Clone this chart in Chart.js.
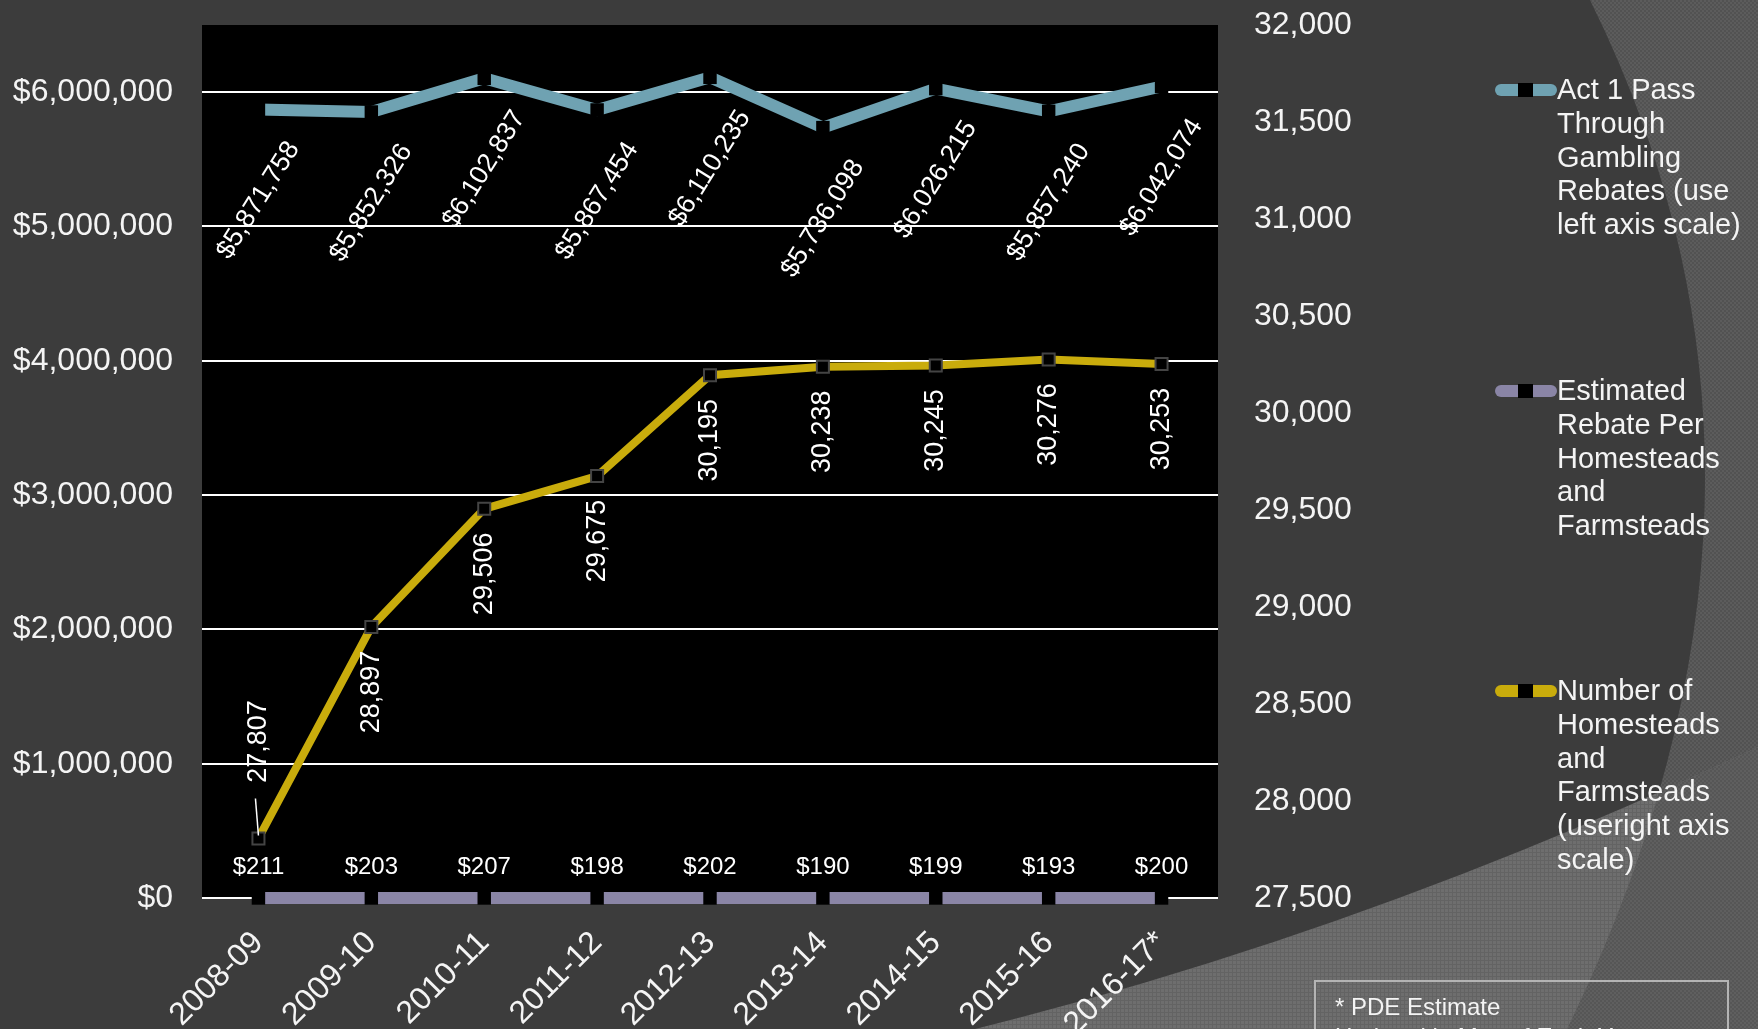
<!DOCTYPE html>
<html>
<head>
<meta charset="utf-8">
<script src="https://cdn.jsdelivr.net/npm/chart.js@4.4.1/dist/chart.umd.min.js"></script>
<style>
html, body { margin: 0; padding: 0; background: #3c3c3c; }
#wrap { position: relative; width: 1758px; height: 1029px; overflow: hidden; font-family: "Liberation Sans", Arial, sans-serif; color: #f4f4f4; }
#bg, #chart { position: absolute; left: 0; top: 0; }
.leg { position: absolute; left: 1495px; font-size: 29px; line-height: 33.8px; }
.leg .sym { position: absolute; left: 0; top: 11px; width: 62px; height: 12px; border-radius: 6px; }
.leg .sym i { position: absolute; left: 23px; top: -1px; width: 15px; height: 14px; background: #000; }
.leg span { display: block; margin-left: 62px; white-space: nowrap; }
#note { position: absolute; left: 1314px; top: 980px; width: 415px; height: 90px; border: 2px solid #b4b4b4; font-size: 24px; line-height: 30px; padding: 10px 0 0 19px; box-sizing: border-box; }
</style>
</head>
<body>
<div id="wrap">
  <svg id="bg" width="1758" height="1029">
    <defs>
      <pattern id="texA" width="4" height="4" patternUnits="userSpaceOnUse">
        <rect width="4" height="4" fill="#525252"/>
        <rect width="2" height="2" fill="#5c5c5c"/>
        <rect x="2" y="2" width="2" height="2" fill="#5c5c5c"/>
      </pattern>
      <pattern id="texB" width="4" height="4" patternUnits="userSpaceOnUse">
        <rect width="4" height="4" fill="#6e6e6e"/>
        <rect width="4" height="1" fill="#636363"/>
        <rect width="1" height="4" fill="#636363"/>
      </pattern>
      <pattern id="texC" width="4" height="4" patternUnits="userSpaceOnUse">
        <rect width="4" height="4" fill="#5f5f5f"/>
        <rect width="2" height="2" fill="#565656"/>
        <rect x="2" y="2" width="2" height="2" fill="#565656"/>
      </pattern>
      <clipPath id="lowClip">
        <path d="M975,1029 Q1365,932 1758,747 L1758,1029 Z"/>
      </clipPath>
    </defs>
    <path d="M1590,0 Q1831,486 1567,1029 L1758,1029 L1758,0 Z" fill="url(#texA)"/>
    <path d="M975,1029 Q1365,932 1758,747 L1758,1029 Z" fill="url(#texB)"/>
    <path d="M1590,0 Q1831,486 1567,1029 L1758,1029 L1758,0 Z" fill="url(#texC)" clip-path="url(#lowClip)"/>
  </svg>
  <canvas id="chart" width="1758" height="1029"></canvas>

  <div class="leg" style="top:73px">
    <div class="sym" style="background:#6fa2b2"><i></i></div>
    <span>Act 1 Pass</span><span>Through</span><span>Gambling</span><span>Rebates (use</span><span>left axis scale)</span>
  </div>
  <div class="leg" style="top:374px">
    <div class="sym" style="background:#8a85a6"><i></i></div>
    <span>Estimated</span><span>Rebate Per</span><span>Homesteads</span><span>and</span><span>Farmsteads</span>
  </div>
  <div class="leg" style="top:674px">
    <div class="sym" style="background:#c9ac0c"><i></i></div>
    <span>Number of</span><span>Homesteads</span><span>and</span><span>Farmsteads</span><span>(useright axis</span><span>scale)</span>
  </div>

  <div id="note">* PDE Estimate<br>Updated in May of Each Year</div>
</div>

<script>
const years = ['2008-09', '2009-10', '2010-11', '2011-12', '2012-13', '2013-14', '2014-15', '2015-16', '2016-17*']
const passThrough = [5871758, 5852326, 6102837, 5867454, 6110235, 5736098, 6026215, 5857240, 6042074]
const perHomestead = [211, 203, 207, 198, 202, 190, 199, 193, 200]
const homesteads = [27807, 28897, 29506, 29675, 30195, 30238, 30245, 30276, 30253]
const leftTicks = [0, 1000000, 2000000, 3000000, 4000000, 5000000, 6000000]

const BLUE = '#6fa2b2'
const PURPLE = '#8a85a6'
const GOLD = '#c9ac0c'
const FONT = '"Liberation Sans", Arial, sans-serif'

function money(v) {
    return '$' + v.toLocaleString('en-US')
}

const deg = Math.PI / 180

const valueLabels = {
    id: 'valueLabels',
    afterDatasetsDraw(chart) {
        const ctx = chart.ctx
        ctx.save()
        ctx.fillStyle = '#ffffff'
        ctx.textAlign = 'center'
        ctx.textBaseline = 'middle'

        // pass-through: slanted, under the line
        ctx.font = '26.5px ' + FONT
        chart.getDatasetMeta(0).data.forEach((p, i) => {
            ctx.save()
            ctx.translate(p.x, p.y + 91)
            ctx.rotate(-58 * deg)
            ctx.fillText(money(passThrough[i]), 0, 0)
            ctx.restore()
        })

        // per homestead: flat, just above the axis
        ctx.font = '24px ' + FONT
        chart.getDatasetMeta(1).data.forEach((p, i) => {
            ctx.fillText(money(perHomestead[i]), p.x, p.y - 31)
        })

        // homesteads: vertical
        ctx.font = '27px ' + FONT
        chart.getDatasetMeta(2).data.forEach((p, i) => {
            const dy = i === 0 ? -97 : 65
            ctx.save()
            ctx.translate(p.x, p.y + dy)
            ctx.rotate(-90 * deg)
            ctx.fillText(homesteads[i].toLocaleString('en-US'), 0, 0)
            ctx.restore()
            if (i === 0) {
                ctx.strokeStyle = '#ffffff'
                ctx.lineWidth = 1.5
                ctx.beginPath()
                ctx.moveTo(p.x, p.y - 3)
                ctx.lineTo(p.x - 3, p.y - 40)
                ctx.stroke()
            }
        })
        ctx.restore()
    }
}

const plotBg = {
    id: 'plotBg',
    beforeDraw(chart) {
        const a = chart.chartArea
        chart.ctx.save()
        chart.ctx.fillStyle = '#000000'
        chart.ctx.fillRect(a.left, a.top, a.right - a.left, a.bottom - a.top)
        chart.ctx.restore()
    }
}

function noPad(s) {
    s.paddingTop = 0
    s.paddingBottom = 0
}

new Chart(document.getElementById('chart'), {
    type: 'line',
    data: {
        labels: years,
        datasets: [
            {
                label: 'Act 1 Pass Through Gambling Rebates (use left axis scale)',
                data: passThrough,
                yAxisID: 'y',
                borderColor: BLUE,
                borderWidth: 12,
                borderCapStyle: 'butt',
                pointStyle: 'rect',
                pointRadius: 9.5,
                pointBackgroundColor: '#000',
                pointBorderWidth: 0,
                tension: 0,
                clip: false
            },
            {
                label: 'Estimated Rebate Per Homesteads and Farmsteads',
                data: perHomestead,
                yAxisID: 'y',
                borderColor: PURPLE,
                borderWidth: 12,
                borderCapStyle: 'round',
                pointStyle: 'rect',
                pointRadius: 9.5,
                pointBackgroundColor: '#000',
                pointBorderWidth: 0,
                tension: 0,
                clip: false
            },
            {
                label: 'Number of Homesteads and Farmsteads (useright axis scale)',
                data: homesteads,
                yAxisID: 'y1',
                borderColor: GOLD,
                borderWidth: 8,
                pointStyle: 'rect',
                pointRadius: 8.5,
                pointBackgroundColor: '#000',
                pointBorderColor: '#444',
                pointBorderWidth: 2,
                tension: 0,
                clip: false
            }
        ]
    },
    options: {
        responsive: false,
        animation: false,
        layout: { padding: { top: 25, right: 0, left: 0, bottom: 0 } },
        plugins: {
            legend: { display: false },
            tooltip: { enabled: false }
        },
        scales: {
            x: {
                offset: true,
                grid: { display: false },
                border: { display: false },
                ticks: {
                    color: '#f4f4f4',
                    font: { family: FONT, size: 32 },
                    minRotation: 45,
                    maxRotation: 45,
                    padding: 18
                },
                afterFit: s => { s.height = 131 }
            },
            y: {
                position: 'left',
                min: 0,
                max: 6500000,
                border: { display: false },
                grid: { color: '#ffffff', lineWidth: 2, drawTicks: false },
                ticks: {
                    padding: 29,
                    color: '#f4f4f4',
                    font: { family: FONT, size: 32 },
                    callback: v => money(v)
                },
                afterBuildTicks: s => { s.ticks = leftTicks.map(v => ({ value: v })) },
                afterFit: s => { s.width = 202; noPad(s) }
            },
            y1: {
                position: 'right',
                min: 27500,
                max: 32000,
                border: { display: false },
                grid: { display: false, drawTicks: false },
                ticks: {
                    stepSize: 500,
                    padding: 36,
                    color: '#f4f4f4',
                    font: { family: FONT, size: 32 },
                    callback: v => v.toLocaleString('en-US')
                },
                afterFit: s => { s.width = 540; noPad(s) }
            }
        }
    },
    plugins: [plotBg, valueLabels]
})
</script>
</body>
</html>
